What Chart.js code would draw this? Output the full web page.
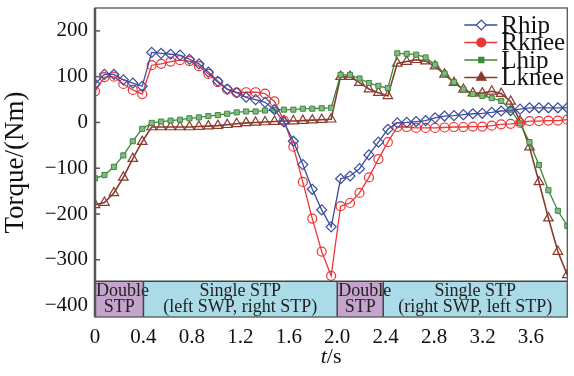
<!DOCTYPE html>
<html>
<head>
<meta charset="utf-8">
<script src="https://cdn.jsdelivr.net/npm/chart.js@4.4.0/dist/chart.umd.min.js"></script>
<style>
  html, body { margin: 0; padding: 0; background: #fff; }
  #wrap { width: 574px; height: 376px; position: relative; }
</style>
</head>
<body>
<div id="wrap"><canvas id="torque"></canvas></div>
<script>
// sample times, s
const times = [0, 0.078, 0.156, 0.234, 0.312, 0.39, 0.468, 0.546, 0.624, 0.702,
  0.78, 0.858, 0.936, 1.014, 1.092, 1.17, 1.248, 1.326, 1.404, 1.482,
  1.56, 1.638, 1.716, 1.794, 1.872, 1.95, 2.028, 2.106, 2.184, 2.262,
  2.34, 2.418, 2.496, 2.574, 2.652, 2.73, 2.808, 2.886, 2.964, 3.042,
  3.12, 3.198, 3.276, 3.354, 3.432, 3.51, 3.588, 3.666, 3.744, 3.822, 3.9];

// joint torques, Nm
const rhip = [84, 105, 105, 93, 86, 79, 153, 151, 149, 147,
  138, 128, 110, 90, 73, 65, 55, 50, 44, 28,
  1, -41, -92, -146, -191, -228, -123, -117, -101, -71,
  -43, -15, -1, 0, 2, 4, 10, 14, 15, 17,
  19, 20, 22, 25, 26, 29, 32, 32, 32, 32, 32];
const rknee = [68, 99, 100, 84, 71, 62, 125, 128, 133, 136,
  134, 123, 106, 88, 72, 65, 66, 66, 63, 46,
  4, -53, -130, -210, -282, -335, -183, -176, -154, -120,
  -80, -43, -10, -10, -12, -12, -12, -11, -10, -10,
  -9, -9, -7, -4, -3, -1, 3, 3, 4, 4, 6];
const lhip = [-122, -115, -97, -72, -41, -14, -1, 2, 4, 6,
  9, 11, 14, 16, 19, 22, 24, 24, 26, 27,
  28, 28, 30, 30, 31, 32, 104, 104, 96, 86,
  80, 75, 151, 150, 148, 142, 126, 107, 88, 72,
  62, 58, 53, 47, 28, -2, -43, -93, -148, -193, -226];
const lknee = [-180, -175, -154, -120, -79, -42, -10, -10, -10, -10,
  -10, -9, -8, -7, -5, -3, -1, 0, 1, 2,
  3, 3, 4, 5, 6, 7, 100, 100, 87, 73,
  65, 58, 129, 133, 137, 134, 123, 105, 87, 72,
  64, 64, 68, 63, 46, 3, -54, -130, -209, -282, -333];

const xTicks = [0, 0.4, 0.8, 1.2, 1.6, 2.0, 2.4, 2.8, 3.2, 3.6];
const yTicks = [-400, -300, -200, -100, 0, 100, 200];

// gait phases shown in the strip along the bottom
const phaseStart = [0, 0.4, 2.0, 2.38];
const phaseEnd = [0.4, 2.0, 2.38, 3.9];
const phaseText = [["Double", "STP"], ["Single STP", "(left SWP, right STP)"],
  ["Double", "STP"], ["Single STP", "(right SWP, left STP)"]];
const phaseColor = ["#c4a3cc", "#acdbe8", "#c4a3cc", "#acdbe8"];
const bandTop = -347;

const pts = (arr) => arr.map((v, i) => ({ x: times[i], y: v }));
const SERIF = '"Liberation Serif", "Times New Roman", serif';

// strip + axis frame + inner y ticks
const phaseBand = {
  id: 'phaseBand',
  afterDatasetsDraw(chart) {
    const { ctx, chartArea: a, scales: { x, y } } = chart;
    const top = y.getPixelForValue(bandTop);
    ctx.save();
    // tick marks pointing inwards
    ctx.strokeStyle = '#555';
    ctx.lineWidth = 1.5;
    yTicks.forEach(v => {
      const py = y.getPixelForValue(v);
      ctx.beginPath(); ctx.moveTo(a.left, py); ctx.lineTo(a.left + 5, py); ctx.stroke();
    });
    for (let i = 0; i < phaseStart.length; i++) {
      const x0 = x.getPixelForValue(phaseStart[i]);
      const x1 = x.getPixelForValue(phaseEnd[i]);
      ctx.fillStyle = phaseColor[i];
      ctx.fillRect(x0, top, x1 - x0, a.bottom - top);
    }
    ctx.fillStyle = '#222';
    ctx.font = '18px ' + SERIF;
    ctx.textBaseline = 'middle';
    for (let i = 0; i < phaseStart.length; i++) {
      const x0 = x.getPixelForValue(phaseStart[i]);
      const x1 = x.getPixelForValue(phaseEnd[i]);
      const cx = (x0 + x1) / 2;
      if (phaseText[i][0] === 'Double') {
        ctx.textAlign = 'left';
        ctx.fillText(phaseText[i][0], x0 + 1, top + 10);
      } else {
        ctx.textAlign = 'center';
        ctx.fillText(phaseText[i][0], cx, top + 10);
      }
      ctx.textAlign = 'center';
      ctx.fillText(phaseText[i][1], cx, top + 26);
    }
    ctx.strokeStyle = '#444';
    ctx.lineWidth = 1.5;
    ctx.beginPath();
    ctx.moveTo(a.left, top); ctx.lineTo(a.right, top);
    for (let i = 1; i < phaseStart.length; i++) {
      const px = x.getPixelForValue(phaseStart[i]);
      ctx.moveTo(px, top); ctx.lineTo(px, a.bottom);
    }
    ctx.stroke();
    // frame, left axis heavier
    ctx.strokeStyle = '#555';
    ctx.lineWidth = 1.3;
    ctx.strokeRect(a.left, a.top, a.right - a.left, a.bottom - a.top);
    ctx.lineWidth = 2.5;
    ctx.beginPath(); ctx.moveTo(a.left, a.top); ctx.lineTo(a.left, a.bottom); ctx.stroke();
    // x title with italic t
    ctx.fillStyle = '#111';
    ctx.textAlign = 'left';
    ctx.font = 'italic 22px ' + SERIF;
    const tw = ctx.measureText('t').width;
    ctx.font = '22px ' + SERIF;
    const sw = ctx.measureText('/s').width;
    const sx = (a.left + a.right) / 2 - (tw + sw) / 2;
    ctx.font = 'italic 22px ' + SERIF;
    ctx.fillText('t', sx, 357);
    ctx.font = '22px ' + SERIF;
    ctx.fillText('/s', sx + tw, 357);
    ctx.restore();
  }
};

// legend in the top right corner, line with marker
const lineLegend = {
  id: 'lineLegend',
  afterDraw(chart) {
    const { ctx, chartArea: a } = chart;
    ctx.save();
    chart.data.datasets.forEach((ds, i) => {
      const y = a.top + 17 + i * 17.5;
      const x0 = a.right - 103;
      ctx.strokeStyle = ds.borderColor;
      ctx.lineWidth = ds.borderWidth;
      ctx.beginPath(); ctx.moveTo(x0, y); ctx.lineTo(x0 + 33, y); ctx.stroke();
      ctx.fillStyle = i === 0 ? '#fff' : ds.borderColor;
      ctx.lineWidth = 1.2;
      Chart.helpers.drawPoint(ctx, { pointStyle: ds.pointStyle, radius: ds.pointRadius, rotation: 0, borderWidth: 1.2 }, x0 + 17, y);
      ctx.fillStyle = '#111';
      ctx.font = '25px ' + SERIF;
      ctx.textBaseline = 'middle';
      ctx.textAlign = 'left';
      ctx.fillText(ds.label, x0 + 37, y + 1);
    });
    ctx.restore();
  }
};

new Chart(document.getElementById('torque'), {
  type: 'line',
  data: {
    datasets: [
      { label: 'Rhip', data: pts(rhip), borderColor: '#3c4c9e', backgroundColor: 'rgba(255,255,255,0)',
        borderWidth: 1.3, pointStyle: 'rectRot', pointRadius: 5, pointBorderWidth: 1.2 },
      { label: 'Rknee', data: pts(rknee), borderColor: '#ee3535', backgroundColor: 'rgba(255,255,255,0)',
        borderWidth: 1.3, pointStyle: 'circle', pointRadius: 4.5, pointBorderWidth: 1.2 },
      { label: 'Lhip', data: pts(lhip), borderColor: '#3b8a3b', backgroundColor: '#86b886',
        borderWidth: 1.3, pointStyle: 'rect', pointRadius: 3.6, pointBorderWidth: 1 },
      { label: 'Lknee', data: pts(lknee), borderColor: '#8a3a2c', backgroundColor: 'rgba(255,255,255,0)',
        borderWidth: 1.6, pointStyle: 'triangle', pointRadius: 5.5, pointBorderWidth: 1.2 }
    ]
  },
  options: {
    responsive: true,
    maintainAspectRatio: false,
    animation: false,
    layout: { padding: { top: 8, right: 1, left: 0, bottom: 0 } },
    plugins: { legend: { display: false }, tooltip: { enabled: false } },
    scales: {
      x: {
        type: 'linear', min: 0, max: 3.9,
        afterBuildTicks: s => { s.ticks = xTicks.map(v => ({ value: v })); },
        afterFit: s => { s.height = 59; s.paddingLeft = 0; s.paddingRight = 0; },
        grid: { display: false, drawTicks: false },
        border: { display: false },
        ticks: { padding: 8, color: '#111', font: { family: SERIF, size: 21 },
          callback: v => v === 0 ? '0' : v.toFixed(1) }
      },
      y: {
        min: -425, max: 250,
        afterBuildTicks: s => { s.ticks = yTicks.map(v => ({ value: v })); },
        afterFit: s => { s.width = 95; s.paddingTop = 0; s.paddingBottom = 0; },
        grid: { display: false, drawTicks: false },
        border: { display: false },
        title: { display: true, text: 'Torque/(Nm)', color: '#111', padding: { top: 0, bottom: 2 },
          font: { family: SERIF, size: 27 } },
        ticks: { padding: 7, color: '#111', font: { family: SERIF, size: 21 },
          callback: v => v < 0 ? '\u2212' + Math.abs(v) : String(v) }
      }
    }
  },
  plugins: [phaseBand, lineLegend]
});
</script>
</body>
</html>
